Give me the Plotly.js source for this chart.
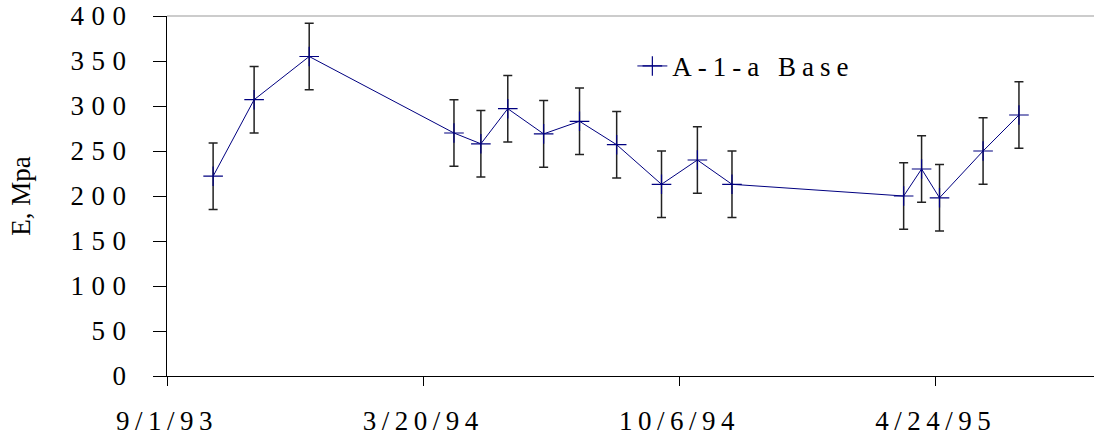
<!DOCTYPE html>
<html>
<head>
<meta charset="utf-8">
<script src="https://cdn.plot.ly/plotly-3.0.1.min.js"></script>
<style>
  html, body { margin: 0; padding: 0; background: #fff; }
  #chart { width: 1094px; height: 444px; }
  .ytick text { letter-spacing: 7.5px; }
  .xtick text { letter-spacing: 5.5px; }
  .legendtext { letter-spacing: 6px; }
</style>
</head>
<body>
<div id="chart"></div>
<script>
// Test dates and backcalculated modulus E (MPa), with error half-widths
const seriesName = 'A-1-a Base';
const testDates = ['1993-10-07','1993-11-08','1993-12-21','1994-04-13','1994-05-04','1994-05-25',
                   '1994-06-22','1994-07-20','1994-08-18','1994-09-22','1994-10-20','1994-11-16',
                   '1995-03-30','1995-04-13','1995-04-27','1995-05-31','1995-06-28'];
const modulusE = [222, 307, 355, 270, 258, 297, 269, 283, 257, 213, 240, 213, 200, 230, 198, 250, 290];
const errorE   = [37, 37, 37, 37, 37, 37, 37, 37, 37, 37, 37, 37, 37, 37, 37, 37, 37];
const yAxisTitle = 'E, Mpa';
const xTickStart = '1993-09-01';
const xTickStepDays = 200;
const xRangeEnd = '1995-08-25 14:00';
const yRange = [0, 400];
const yTickStep = 50;

const FONT = 'Liberation Serif, Times New Roman, serif';

const trace = {
  type: 'scatter',
  mode: 'lines+markers',
  name: seriesName,
  x: testDates,
  y: modulusE,
  line: { color: '#000080', width: 1 },
  marker: { symbol: 'cross-thin', size: 14, line: { color: '#000080', width: 1.2 }, color: '#000080' },
  error_y: { type: 'data', array: errorE, visible: true, color: '#222222', thickness: 1.5, width: 4.5 }
};

const layout = {
  width: 1094,
  height: 444,
  margin: { l: 167, r: 0, t: 16, b: 68 },
  paper_bgcolor: '#ffffff',
  plot_bgcolor: '#ffffff',
  font: { family: FONT, size: 27, color: '#000000' },
  showlegend: true,
  legend: {
    x: 0.502, y: 0.86, xanchor: 'left', yanchor: 'middle',
    bgcolor: 'rgba(0,0,0,0)', borderwidth: 0,
    font: { family: FONT, size: 27, color: '#000000' }
  },
  xaxis: {
    type: 'date',
    range: [xTickStart, xRangeEnd],
    tick0: xTickStart,
    dtick: xTickStepDays * 86400000,
    tickformat: '%-m/%-d/%y',
    ticks: 'outside', ticklen: 9, tickwidth: 1, tickcolor: '#000000',
    showline: true, linecolor: '#000000', linewidth: 1,
    showgrid: false, zeroline: false,
    ticklabelstandoff: 12,
    tickfont: { family: FONT, size: 27, color: '#000000' }
  },
  yaxis: {
    range: yRange,
    dtick: yTickStep,
    tick0: 0,
    ticks: 'outside', ticklen: 13, tickwidth: 1, tickcolor: '#000000',
    showline: true, linecolor: '#000000', linewidth: 1,
    showgrid: false, zeroline: false,
    ticklabelstandoff: 14,
    tickfont: { family: FONT, size: 27, color: '#000000' },
    title: { text: yAxisTitle, font: { family: FONT, size: 27, color: '#000000' }, standoff: 32 }
  },
  shapes: [
    { type: 'line', xref: 'paper', yref: 'paper', x0: 0, x1: 1, y0: 1, y1: 1,
      line: { color: '#999999', width: 1 } }
  ]
};

Plotly.newPlot('chart', [trace], layout, { displayModeBar: false, staticPlot: true });
</script>
</body>
</html>
